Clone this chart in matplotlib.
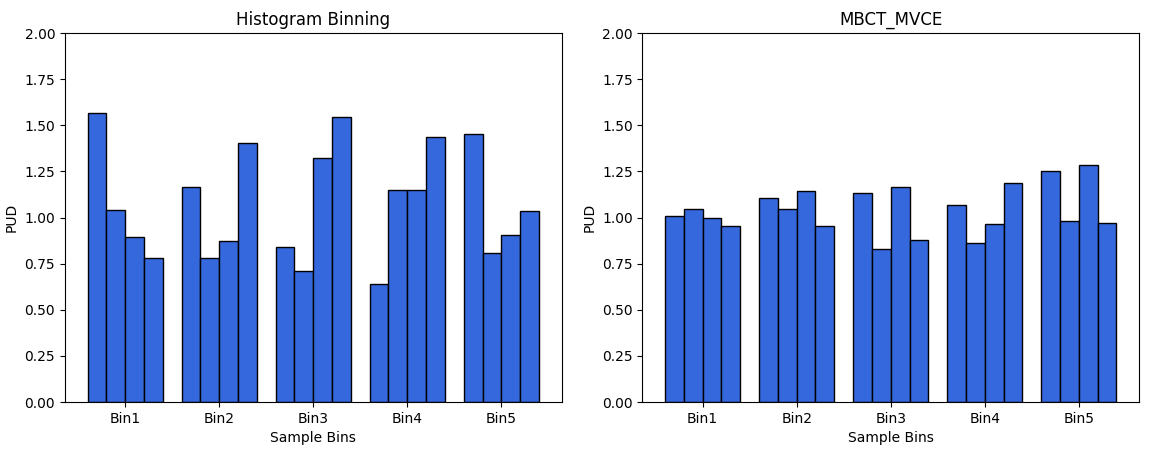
import matplotlib
matplotlib.use("Agg")
import matplotlib.pyplot as plt
import numpy as np

bins = ["Bin1", "Bin2", "Bin3", "Bin4", "Bin5"]
hist_values = [
    [1.565, 1.041, 0.894, 0.779],
    [1.164, 0.779, 0.871, 1.402],
    [0.840, 0.708, 1.321, 1.545],
    [0.640, 1.149, 1.149, 1.435],
    [1.453, 0.806, 0.903, 1.033],
]
mbct_values = [
    [1.006, 1.044, 0.995, 0.952],
    [1.104, 1.044, 1.142, 0.952],
    [1.131, 0.829, 1.164, 0.878],
    [1.066, 0.860, 0.963, 1.185],
    [1.250, 0.979, 1.283, 0.969],
]
titles = ["Histogram Binning", "MBCT_MVCE"]

fig, axes = plt.subplots(1, 2, figsize=(11.56, 4.59), dpi=100)
color = "#3568DC"
width = 0.2
x = np.arange(len(bins))
for ax, vals, title in zip(axes, [hist_values, mbct_values], titles):
    arr = np.array(vals)
    for j in range(arr.shape[1]):
        ax.bar(x + (j - 1.5) * width, arr[:, j], width, color=color, edgecolor="black")
    ax.set_xticks(x)
    ax.set_xticklabels(bins)
    ax.set_ylim(0, 2.0)
    ax.set_yticks(np.arange(0, 2.01, 0.25))
    ax.set_xlabel("Sample Bins")
    ax.set_ylabel("PUD")
    ax.set_title(title)

fig.subplots_adjust(left=0.0562, right=0.9853, bottom=0.124, top=0.928, wspace=0.163)
fig.savefig("out.png", dpi=100)
